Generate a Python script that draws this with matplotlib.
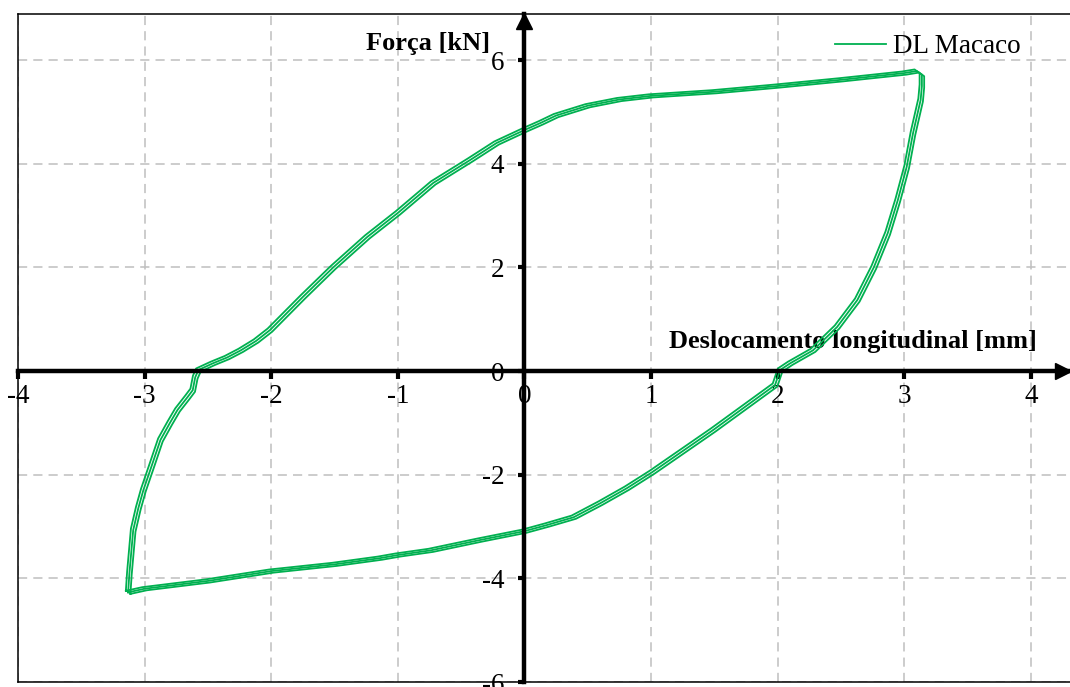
import matplotlib.pyplot as plt

plt.rcParams['font.family'] = ['Liberation Serif', 'DejaVu Serif']
plt.rcParams['axes.unicode_minus'] = False

# hysteresis loop (displacement mm, force kN)
loop_x = [-3.13, -3.12, -3.09, -3.05, -3.01, -2.94, -2.875, -2.80, -2.74, -2.66,
          -2.62, -2.60, -2.575, -2.46, -2.35, -2.24, -2.12, -2.01, -1.75, -1.51,
          -1.24, -1.0, -0.72, -0.43, -0.22, 0.0, 0.13, 0.25, 0.5, 0.75,
          1.0, 1.5, 2.0, 2.5, 3.0, 3.1, 3.14, 3.14, 3.13, 3.07,
          3.02, 2.95, 2.87, 2.76, 2.63, 2.47, 2.28, 2.1, 2.02, 1.98,
          1.49, 1.01, 0.81, 0.6, 0.39, 0.18, 0.0, -0.35, -0.74, -1.0,
          -1.14, -1.5, -2.0, -2.5, -3.0, -3.13]
loop_y = [-4.27, -3.9, -3.07, -2.65, -2.3, -1.8, -1.33, -1.0, -0.75, -0.5,
          -0.37, -0.12, 0.02, 0.15, 0.26, 0.4, 0.58, 0.79, 1.43, 2.0,
          2.59, 3.05, 3.63, 4.07, 4.4, 4.65, 4.79, 4.93, 5.12, 5.24,
          5.31, 5.39, 5.5, 5.62, 5.75, 5.79, 5.72, 5.5, 5.23, 4.59,
          3.94, 3.3, 2.66, 2.0, 1.37, 0.85, 0.4, 0.15, 0.02, -0.27,
          -1.14, -1.95, -2.26, -2.55, -2.82, -2.97, -3.09, -3.26, -3.46, -3.55,
          -3.61, -3.73, -3.86, -4.05, -4.2, -4.27]

# small drift between the three recorded cycles
cycle_dx = [-0.018, 0.0, 0.018]
cycle_dy = [0.03, 0.0, -0.03]

x_ticks = [-4, -3, -2, -1, 0, 1, 2, 3, 4]
y_ticks = [-6, -4, -2, 0, 2, 4, 6]

GREEN = '#00B050'


def main():
    fig = plt.figure(figsize=(10.7, 6.87), dpi=100)
    ax = fig.add_axes([18 / 1070, 5 / 687, 1052 / 1070, 668 / 687])

    for i, (dx, dy) in enumerate(zip(cycle_dx, cycle_dy)):
        ax.plot([x + dx for x in loop_x], [y + dy for y in loop_y],
                color=GREEN, lw=1.3, label='DL Macaco' if i == 0 else None)

    ax.set_xlim(-4, 4.31)
    ax.set_ylim(-6, 6.89)
    ax.set_xticks(x_ticks)
    ax.set_yticks(y_ticks)

    # axes through the origin
    ax.spines['left'].set_position(('data', 0))
    ax.spines['bottom'].set_position(('data', 0))
    ax.spines['left'].set_linewidth(3.2)
    ax.spines['bottom'].set_linewidth(3.2)
    ax.spines['right'].set_visible(False)
    ax.spines['top'].set_linewidth(1.1)

    # outer frame (left and bottom)
    ax.plot([0, 0], [0, 1], color='k', lw=1.1, transform=ax.transAxes, clip_on=False)
    ax.plot([0, 1], [0, 0], color='k', lw=1.1, transform=ax.transAxes, clip_on=False)

    # arrow heads
    ax.plot(0.993, 0, marker='>', ms=11, color='k',
            transform=ax.get_yaxis_transform(), clip_on=False)
    ax.plot(0, 0.9888, marker='^', ms=11, color='k',
            transform=ax.get_xaxis_transform(), clip_on=False)

    ax.tick_params(axis='x', direction='out', length=6, width=3, labelsize=19.5, pad=3)
    ax.tick_params(axis='y', direction='out', length=4.5, width=3, labelsize=19.5, pad=10)

    ax.grid(True, color='#bfbfbf', linestyle=(0, (6, 4)), lw=1.1)
    ax.set_axisbelow(True)

    ax.set_xlabel('Deslocamento longitudinal [mm]', fontsize=19, fontweight='bold',
                  ha='right', va='center')
    ax.xaxis.set_label_coords(4.05, 0.58, transform=ax.transData)
    ax.set_ylabel('Força [kN]', fontsize=19, fontweight='bold', rotation=0,
                  ha='right', va='center')
    ax.yaxis.set_label_coords(-0.27, 6.33, transform=ax.transData)

    ax.legend(loc='center right', bbox_to_anchor=(0.953, 0.9506), frameon=False,
              fontsize=19.5, handlelength=1.9, handletextpad=0.25,
              borderpad=0, borderaxespad=0)

    fig.savefig('out.png', dpi=100)


if __name__ == "__main__":
    main()
